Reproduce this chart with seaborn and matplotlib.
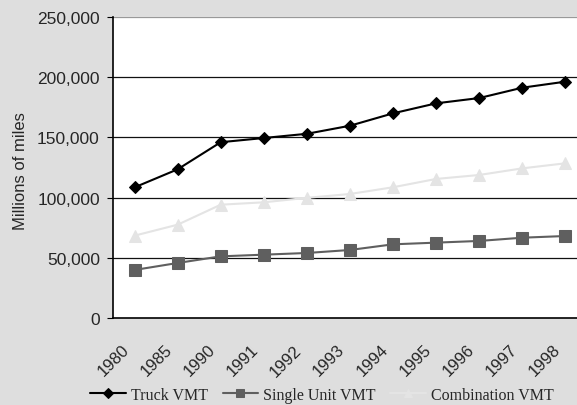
import numpy as np
import pandas as pd
import matplotlib
matplotlib.use("Agg")
import matplotlib.pyplot as plt
import seaborn as sns

# Truck vehicle miles travelled (millions of miles)
years = ["1980", "1985", "1990", "1991", "1992", "1993", "1994",
         "1995", "1996", "1997", "1998"]
truck_vmt = [108500, 123500, 146000, 149500, 153000, 159700, 170000,
             178300, 182700, 191300, 196300]
single_unit_vmt = [39900, 45700, 51200, 52600, 54000, 56500, 61200,
                   62600, 64000, 66700, 68100]
combination_vmt = [68400, 77500, 94100, 96100, 99800, 103000, 108600,
                   115500, 118800, 124300, 128500]

df = pd.DataFrame({
    "pos": np.arange(len(years)),
    "Truck VMT": truck_vmt,
    "Single Unit VMT": single_unit_vmt,
    "Combination VMT": combination_vmt,
})

sns.set_style("white")
plt.rcParams["font.family"] = ["Liberation Sans", "DejaVu Sans"]

fig = plt.figure(figsize=(5.77, 4.06), dpi=100)
fig.patch.set_facecolor("#dedede")
ax = fig.add_axes([113 / 577, 1 - 319 / 406, 474 / 577, 301 / 406])
ax.set_facecolor("white")

styles = [
    ("Truck VMT", "black", "D", 6.5),
    ("Single Unit VMT", "#5f5f5f", "s", 8),
    ("Combination VMT", "#e4e4e4", "^", 8.5),
]
for name, col, mk, ms in styles:
    sns.lineplot(data=df, x="pos", y=name, ax=ax, color=col, marker=mk,
                 markersize=ms, markeredgecolor=col, linewidth=1.5,
                 label=name, legend=False)

ax.set_xlim(-0.5, len(years) - 0.5)
ax.set_ylim(0, 250000)
ax.set_yticks(np.arange(0, 250001, 50000))
ax.set_yticklabels([f"{v:,}" for v in range(0, 250001, 50000)], fontsize=12.5)
for v in range(50000, 250001, 50000):
    ax.axhline(v, color="#111111" if v != 250000 else "#999999", lw=0.9, zorder=0)

# rotated year labels sit a little left of each category centre
ax.set_xticks(df["pos"] - 0.3)
ax.set_xticklabels(years, rotation=45, ha="right", va="top",
                   rotation_mode="anchor", fontsize=12)
ax.set_xticks(np.arange(-0.5, len(years), 1), minor=True)
ax.tick_params(axis="x", which="major", length=0, pad=17)
ax.tick_params(axis="x", which="minor", length=5, direction="out", color="black")
ax.tick_params(axis="y", length=4.5, direction="out", color="black", pad=5, left=True)

for s in ["top", "right"]:
    ax.spines[s].set_visible(False)
for s in ["left", "bottom"]:
    ax.spines[s].set_color("black")
    ax.spines[s].set_linewidth(1.2)

ax.set_xlabel("")
ax.set_ylabel("Millions of miles", fontsize=12)
ax.yaxis.set_label_coords(-85 / 474, 0.49)

handles, labels = ax.get_legend_handles_labels()
fig.legend(handles, labels, loc="center", bbox_to_anchor=(322 / 577, 1 - 396 / 406),
           ncol=3, frameon=False, handlelength=2.25, columnspacing=0.9,
           handletextpad=0.3, markerscale=0.75,
           prop={"family": "Liberation Serif", "size": 11.5})

fig.savefig("out.png", dpi=100, facecolor=fig.get_facecolor())
